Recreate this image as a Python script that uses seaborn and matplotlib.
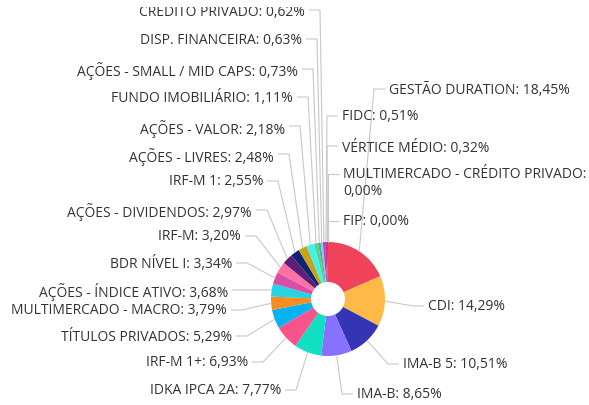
import matplotlib
matplotlib.use("Agg")
import matplotlib.pyplot as plt
import seaborn as sns
import numpy as np

# --- data ---
categories = [
    "GESTÃO DURATION", "CDI", "IMA-B 5", "IMA-B", "IDKA IPCA 2A", "IRF-M 1+",
    "TÍTULOS PRIVADOS", "MULTIMERCADO - MACRO", "AÇÕES - ÍNDICE ATIVO",
    "BDR NÍVEL I", "IRF-M", "AÇÕES - DIVIDENDOS", "IRF-M 1", "AÇÕES - LIVRES",
    "AÇÕES - VALOR", "FUNDO IMOBILIÁRIO", "AÇÕES - SMALL / MID CAPS",
    "DISP. FINANCEIRA", "CRÉDITO PRIVADO", "FIDC", "VÉRTICE MÉDIO",
    "MULTIMERCADO - CRÉDITO PRIVADO", "FIP",
]
values = [18.45, 14.29, 10.51, 8.65, 7.77, 6.93, 5.29, 3.79, 3.68, 3.34, 3.20,
          2.97, 2.55, 2.48, 2.18, 1.11, 0.73, 0.63, 0.62, 0.51, 0.32, 0.00, 0.00]
colors = ["#f0435a", "#ffb946", "#3434b6", "#8672ff", "#10dfc2", "#f7548b",
          "#06b3f2", "#f68c24", "#25d3e2", "#d94fa6", "#ff70a6", "#5b1f78",
          "#0e2473", "#c9a21a", "#3ef5ec", "#5ccf8c", "#3db39e", "#a3b5e0",
          "#9052c8", "#d6247f", "#e0304a", "#888888", "#888888"]

# --- layout (pixels, top-left origin) ---
W, H = 589, 406
TOP_CLIP = 8          # plot area starts a few px below the top edge
CX, CY, R, R_IN = 328, 300, 57, 17
label_side = ["r", "r", "r", "r", "l", "l", "l", "l", "l", "l", "l", "l",
              "l", "l", "l", "l", "l", "l", "l", "r", "r", "r", "r"]
label_x = [389, 428, 403, 357, 281, 248, 232, 227, 228, 232, 241, 252,
           263, 274, 285, 293, 298, 302, 305, 342, 342, 343, 343]
label_y = [90, 307, 365, 395, 391, 363, 337, 311, 291, 264, 237, 211,
           182, 155, 127, 98, 70, 40, 11, 117, 147, 175, 222]

sns.set_theme(style="white")
plt.rcParams["font.family"] = ["Open Sans", "DejaVu Sans"]

fig = plt.figure(figsize=(W / 100, H / 100), dpi=100)
ax = fig.add_axes([0, 0, 1, (H - TOP_CLIP) / H])

ax.pie(values, colors=colors, startangle=90, counterclock=False,
       center=(CX, H - CY), radius=R, frame=True,
       wedgeprops=dict(width=R - R_IN, linewidth=0))
ax.set_xlim(0, W)
ax.set_ylim(0, H - TOP_CLIP)
ax.set_aspect("equal")
ax.axis("off")

# connectors and labels
total = sum(values)
cum = 0.0
for name, v, side, lx, ly in zip(categories, values, label_side, label_x, label_y):
    mid = (cum + v / 2) / total
    cum += v
    ang = np.deg2rad(90 - mid * 360)
    ex, ey = CX + R * np.cos(ang), CY - R * np.sin(ang)
    if side == "l":
        gx = lx + 4
        bx = gx + 11
        ha = "right"
    else:
        gx = lx - 4
        bx = gx - 11
        ha = "left"
    ax.plot([ex, bx, gx], [H - ey, H - ly, H - ly], color="#c8c8c8",
            lw=0.8, solid_capstyle="butt", zorder=1)
    pct = f"{v:.2f}".replace(".", ",")
    if name == "MULTIMERCADO - CRÉDITO PRIVADO":
        txt = f"{name}:\n{pct}%"
    else:
        txt = f"{name}: {pct}%"
    ax.text(lx, H - ly + 7.5, txt, ha=ha, va="top", fontsize=10.0,
            color="#333333", linespacing=1.1, clip_on=True)

fig.savefig("out.png", dpi=100)
